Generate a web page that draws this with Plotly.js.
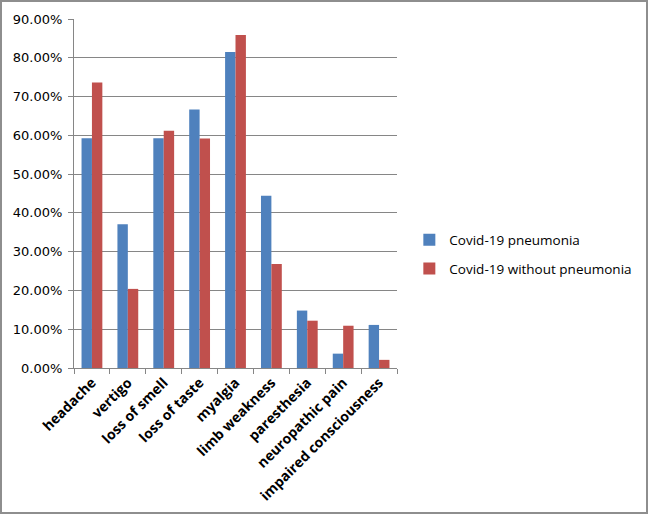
<!DOCTYPE html>
<html>
<head>
<meta charset="utf-8">
<script src="https://cdn.plot.ly/plotly-3.0.1.min.js"></script>
<style>
html,body{margin:0;padding:0;background:#fff;}
#wrap{position:relative;width:648px;height:514px;}
#chart{width:648px;height:514px;}
#frame{position:absolute;left:0;top:0;width:648px;height:514px;box-sizing:border-box;border:2px solid #8e8e8e;pointer-events:none;}
</style>
</head>
<body>
<div id="wrap"><div id="chart"></div><div id="frame"></div></div>
<script>
const categories = ["headache","vertigo","loss of smell","loss of taste","myalgia","limb weakness","paresthesia","neuropathic pain","impaired consciousness"];
const pneumonia = [0.5926,0.3704,0.5926,0.6667,0.8148,0.4444,0.1481,0.0370,0.1111];
const withoutPneumonia = [0.736,0.204,0.612,0.592,0.859,0.268,0.122,0.109,0.021];
const seriesNames = ["Covid-19 pneumonia","Covid-19 without pneumonia"];
const yTicks = [0,0.1,0.2,0.3,0.4,0.5,0.6,0.7,0.8,0.9];

const font = "'Open Sans', sans-serif";
const data = [
  {type:"bar", x:categories, y:pneumonia, name:seriesNames[0], legendgroup:"a", marker:{color:"#4F81BD"}},
  {type:"bar", x:categories, y:withoutPneumonia, name:seriesNames[1], legendgroup:"b", marker:{color:"#C0504D"}}
];
const layout = {
  width:648, height:514,
  margin:{l:74, r:250, t:19, b:146},
  paper_bgcolor:"#fff", plot_bgcolor:"#fff",
  barmode:"group", bargap:0.42, bargroupgap:0,
  font:{family:font, size:13, color:"#000"},
  xaxis:{
    type:"category", showgrid:false, showline:true, linecolor:"#868686", linewidth:1,
    ticks:"outside", tickson:"boundaries", ticklen:5, tickcolor:"#868686",
    tickangle:-45, tickfont:{family:font, size:14, weight:"bold", color:"#000"},
    fixedrange:true
  },
  yaxis:{
    range:[0,0.9], tickvals:yTicks, tickformat:".2%",
    showgrid:true, gridcolor:"#868686", gridwidth:1,
    showline:true, linecolor:"#868686", linewidth:1,
    ticks:"outside", ticklen:5, tickcolor:"#868686", ticklabelstandoff:3,
    tickfont:{family:"'DejaVu Sans', sans-serif", size:13, color:"#000"}, zeroline:false,
    fixedrange:true
  },
  showlegend:true,
  legend:{x:1.035, y:0.325, xanchor:"left", yanchor:"middle", font:{family:font, size:13.5, color:"#000"},
    traceorder:"grouped", tracegroupgap:8, itemwidth:30, bgcolor:"rgba(0,0,0,0)"}
};
Plotly.newPlot("chart", data, layout, {displayModeBar:false, staticPlot:true});
</script>
</body>
</html>
